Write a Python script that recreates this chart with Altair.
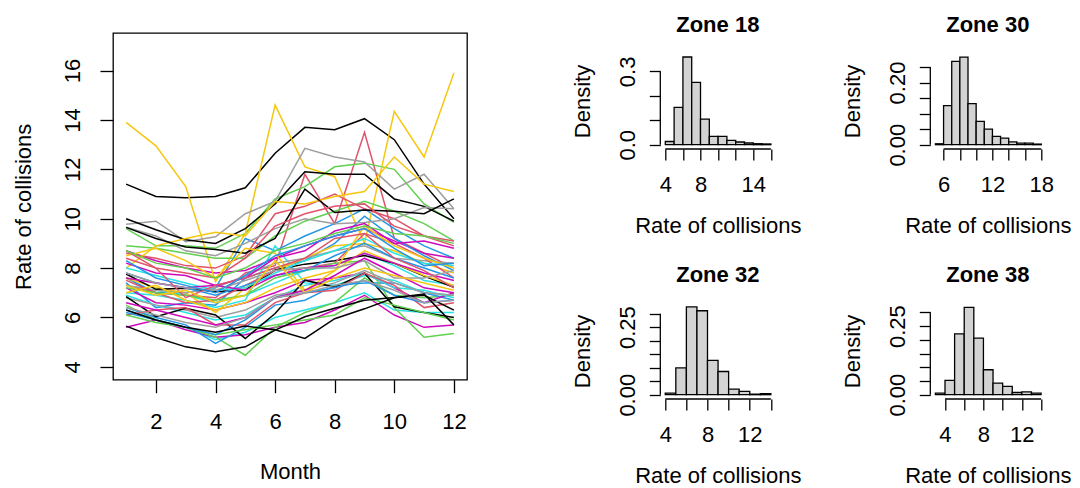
import altair as alt
import pandas as pd

FONT = "Liberation Sans"
MONTHS = list(range(1, 13))

# Monthly collision rates per zone, grouped by the line colour they are drawn in
BLACK_ZONES = [
    [11.4, 10.9, 10.85, 10.9, 11.25, 12.65, 13.7, 13.6, 14.05, 13.2, 11.4, 10.0],
    [10.0, 9.55, 9.15, 9.0, 9.6, 10.6, 11.9, 11.8, 11.8, 10.8, 10.5, 9.9],
    [9.65, 9.2, 8.85, 8.75, 8.6, 9.2, 11.2, 10.25, 10.35, 10.3, 10.2, 10.8],
    [7.76, 7.14, 7.18, 7.04, 7.11, 7.92, 8.16, 8.3, 8.51, 8.19, 7.68, 7.22],
    [6.84, 6.03, 6.37, 6.1, 5.15, 6.16, 7.51, 7.22, 7.79, 6.43, 6.2, 6.0],
    [5.65, 5.19, 4.81, 4.61, 4.81, 5.49, 6.03, 6.37, 6.7, 6.81, 6.9, 6.3],
    [6.3, 5.9, 5.6, 5.4, 5.65, 5.5, 5.15, 5.95, 6.35, 6.8, 6.95, 5.7],
]
RED_ZONES = [
    [7.3, 7.0, 6.9, 6.8, 7.8, 8.1, 11.8, 9.8, 13.5, 9.2, 8.6, 8.0],
    [8.6, 8.4, 8.1, 8.0, 8.5, 10.2, 10.5, 11.0, 10.4, 10.0, 9.3, 8.9],
    [8.4, 8.0, 7.8, 7.6, 8.4, 9.7, 10.2, 10.5, 10.6, 9.7, 9.3, 9.1],
    [7.5, 7.0, 6.6, 6.7, 7.3, 7.9, 8.0, 8.2, 9.4, 9.0, 8.4, 7.6],
    [6.1, 6.3, 6.4, 5.7, 5.7, 6.6, 7.0, 7.1, 7.8, 7.3, 6.4, 6.6],
    [8.7, 8.0, 6.8, 7.3, 7.6, 8.0, 8.4, 9.2, 9.4, 8.4, 7.9, 7.2],
]
GREEN_ZONES = [
    [9.6, 8.9, 8.9, 8.8, 9.4, 10.8, 11.3, 12.1, 12.25, 12.0, 10.6, 9.85],
    [8.9, 8.8, 8.6, 8.4, 8.4, 9.3, 9.9, 10.3, 10.7, 10.3, 9.8, 9.1],
    [6.5, 5.9, 5.6, 5.2, 4.47, 5.6, 6.2, 6.6, 7.6, 6.9, 6.8, 6.9],
    [7.2, 7.0, 6.9, 6.7, 6.9, 7.6, 7.9, 8.2, 8.3, 6.4, 5.2, 5.35],
    [6.1, 5.8, 5.6, 5.3, 5.5, 5.7, 5.9, 6.1, 6.8, 6.5, 6.2, 5.9],
    [8.7, 8.2, 8.0, 7.6, 8.0, 8.7, 9.0, 9.4, 9.7, 9.4, 9.3, 9.0],
]
BLUE_ZONES = [
    [7.6, 7.0, 7.0, 7.2, 9.2, 8.7, 9.3, 9.8, 10.4, 9.6, 8.9, 8.4],
    [7.4, 6.4, 6.6, 6.5, 7.6, 8.0, 8.3, 9.0, 10.1, 9.2, 8.5, 7.9],
    [6.4, 6.0, 5.7, 4.95, 5.6, 6.5, 6.7, 7.3, 7.4, 7.4, 7.0, 6.7],
    [7.8, 7.4, 7.2, 6.9, 7.3, 7.7, 7.9, 8.5, 9.0, 8.4, 8.0, 7.6],
    [6.2, 5.9, 5.6, 5.3, 5.9, 6.8, 7.0, 7.2, 7.5, 6.9, 6.6, 6.7],
    [8.3, 7.6, 7.3, 7.0, 7.7, 8.5, 8.9, 9.3, 9.6, 8.8, 8.1, 8.2],
]
CYAN_ZONES = [
    [6.3, 5.9, 5.6, 5.1, 5.4, 6.0, 6.3, 6.6, 7.0, 6.3, 6.2, 6.2],
    [7.0, 6.9, 6.7, 6.4, 6.7, 8.9, 7.4, 7.3, 7.7, 7.5, 7.0, 6.9],
    [7.3, 7.1, 6.9, 6.6, 6.9, 7.4, 7.9, 8.1, 8.6, 8.1, 7.5, 7.3],
    [6.9, 6.5, 6.2, 5.9, 6.1, 6.8, 7.3, 7.5, 7.8, 7.2, 7.1, 6.8],
    [8.0, 7.7, 7.4, 7.1, 7.2, 7.8, 8.3, 8.7, 9.2, 8.6, 8.2, 8.1],
]
MAGENTA_ZONES = [
    [8.7, 8.3, 8.0, 7.8, 7.9, 8.4, 8.9, 9.3, 9.6, 9.1, 8.6, 8.4],
    [5.6, 5.9, 5.5, 5.2, 5.3, 5.6, 5.8, 6.3, 6.9, 6.1, 5.6, 5.7],
    [7.2, 6.6, 6.5, 6.3, 6.6, 7.0, 7.5, 7.6, 7.8, 7.2, 6.6, 7.0],
    [8.2, 7.8, 7.7, 7.3, 7.6, 8.4, 8.7, 9.5, 9.8, 9.0, 9.1, 8.8],
    [7.6, 7.4, 7.2, 7.3, 7.1, 7.7, 8.0, 8.1, 8.6, 8.2, 7.8, 7.5],
    [6.6, 6.3, 6.0, 5.7, 6.0, 6.8, 7.1, 7.7, 8.4, 7.8, 7.2, 7.0],
]
YELLOW_ZONES = [
    [13.9, 12.95, 11.3, 7.45, 9.4, 14.6, 12.1, 11.7, 9.0, 14.35, 12.5, 15.9],
    [8.0, 8.9, 9.2, 9.45, 9.3, 10.7, 10.6, 10.9, 11.1, 12.5, 11.4, 11.1],
    [7.6, 7.2, 7.0, 6.2, 7.2, 7.9, 8.4, 8.9, 9.0, 8.7, 8.2, 7.8],
    [8.5, 8.8, 8.3, 7.6, 8.8, 8.6, 7.1, 7.9, 8.7, 8.2, 7.7, 7.3],
    [7.0, 7.3, 6.7, 6.3, 6.6, 7.2, 7.6, 7.9, 9.7, 8.9, 8.4, 8.0],
    [7.3, 6.9, 7.1, 6.6, 6.9, 8.3, 7.0, 7.6, 8.0, 7.7, 7.4, 7.1],
]
GREY_ZONES = [
    [9.78, 9.9, 9.07, 9.27, 10.2, 10.7, 12.85, 12.5, 12.3, 11.2, 11.8, 10.4],
    [9.65, 9.3, 8.7, 8.5, 9.0, 9.6, 10.0, 9.8, 9.85, 10.0, 10.45, 10.4],
    [7.3, 7.1, 7.0, 7.2, 7.7, 8.2, 8.4, 8.7, 8.9, 8.4, 8.3, 8.2],
    [6.8, 6.5, 6.3, 6.0, 6.3, 6.9, 7.1, 7.4, 7.9, 7.4, 7.0, 6.9],
    [7.8, 7.4, 7.2, 7.1, 7.5, 7.9, 8.0, 8.0, 8.3, 7.6, 7.6, 7.9],
    [6.4, 6.1, 5.8, 5.6, 6.0, 6.8, 7.0, 7.3, 7.5, 7.1, 6.6, 6.7],
]

# R's default palette, cycled over the zones in order
PALETTE = [
    ("#000000", BLACK_ZONES),
    ("#DF536B", RED_ZONES),
    ("#61D04F", GREEN_ZONES),
    ("#2297E6", BLUE_ZONES),
    ("#28E2E5", CYAN_ZONES),
    ("#CD0BBC", MAGENTA_ZONES),
    ("#F5C710", YELLOW_ZONES),
    ("#9E9E9E", GREY_ZONES),
]

# Histograms of the collision rate for four zones (bin breaks and densities)
Z18_BREAKS = list(range(4, 17))
Z18_DENSITY = [0.013, 0.153, 0.359, 0.255, 0.105, 0.034, 0.034, 0.018, 0.011, 0.007, 0.004, 0.003]
Z30_BREAKS = list(range(5, 19))
Z30_DENSITY = [0.003, 0.1255, 0.268, 0.282, 0.132, 0.075, 0.050, 0.027, 0.021, 0.009, 0.005, 0.005, 0.002]
Z32_BREAKS = list(range(4, 15))
Z32_DENSITY = [0.006, 0.099, 0.325, 0.311, 0.127, 0.086, 0.021, 0.012, 0.002, 0.004]
Z38_BREAKS = list(range(3, 15))
Z38_DENSITY = [0.006, 0.052, 0.222, 0.318, 0.206, 0.091, 0.042, 0.030, 0.008, 0.010, 0.006]

# ---- line panel -------------------------------------------------------
records = []
zone_id = 0
for i in range(max(len(z) for _, z in PALETTE)):
    for colour, zones in PALETTE:
        if i < len(zones):
            zone_id += 1
            for m, v in zip(MONTHS, zones[i]):
                records.append({"zone": f"z{zone_id:02d}", "month": m, "rate": v, "colour": colour})
line_df = pd.DataFrame(records)

LINE_W, LINE_H = 354, 346.7

line_chart = alt.Chart(line_df).mark_line(strokeWidth=1.5).encode(
    x=alt.X(
        "month:Q",
        scale=alt.Scale(domain=[0.56, 12.44], nice=False, zero=False),
        axis=alt.Axis(
            values=[2, 4, 6, 8, 10, 12], title="Month", tickSize=13,
            labelPadding=35.7, labelBaseline="alphabetic", labelFlush=False,
            labelOverlap=False, titleX=LINE_W / 2, titleY=98.7,
            titleAlign="center", titleBaseline="alphabetic",
        ),
    ),
    y=alt.Y(
        "rate:Q",
        scale=alt.Scale(domain=[3.48, 17.52], nice=False, zero=False),
        axis=alt.Axis(
            values=[4, 6, 8, 10, 12, 14, 16], title="Rate of collisions", tickSize=13,
            labelAngle=270, labelAlign="center", labelBaseline="alphabetic",
            labelPadding=20.8, labelFlush=False, labelOverlap=False,
            titleAngle=270, titleX=-82.2, titleY=LINE_H / 2,
            titleAlign="center", titleBaseline="alphabetic",
        ),
    ),
    detail="zone:N",
    color=alt.Color("colour:N", scale=None),
).properties(width=LINE_W, height=LINE_H)

# ---- histogram panels ---------------------------------------------------
H_W, H_H = 115, 116


def histogram(title, breaks, density, xdom, ydom, xticks, xlabels, yticks, ylabels, yfmt):
    bins = pd.DataFrame({"lo": breaks[:-1], "hi": breaks[1:], "density": density})
    xscale = alt.Scale(domain=xdom, nice=False, zero=False)
    yscale = alt.Scale(domain=ydom, nice=False, zero=False)
    xlab = "[" + ",".join(str(v) for v in xlabels) + "]"
    ylab = "[" + ",".join(str(v) for v in ylabels) + "]"
    xaxis = alt.Axis(
        values=xticks, title="Rate of collisions", tickSize=11,
        labelExpr=f"indexof({xlab}, datum.value) >= 0 ? datum.label : ''",
        labelPadding=31.3, labelBaseline="alphabetic", labelFlush=False,
        labelOverlap=False, titleX=H_W / 2, titleY=83.6,
        titleAlign="center", titleBaseline="alphabetic",
    )
    yaxis = alt.Axis(
        values=yticks, title="Density", tickSize=11,
        labelExpr=f"indexof({ylab}, datum.value) >= 0 ? format(datum.value, '{yfmt}') : ''",
        labelAngle=270, labelAlign="center", labelBaseline="alphabetic",
        labelPadding=15.3, labelFlush=False, labelOverlap=False,
        titleAngle=270, titleX=-70.7, titleY=68,
        titleAlign="center", titleBaseline="alphabetic",
    )
    bars = alt.Chart(bins).mark_rect(fill="#D3D3D3", stroke="black", strokeWidth=1.3).encode(
        x=alt.X("lo:Q", scale=xscale, axis=xaxis),
        x2="hi:Q",
        y=alt.Y("density:Q", scale=yscale, axis=yaxis),
        y2=alt.datum(0),
    )
    x_line = alt.Chart(
        pd.DataFrame({"lo": [xticks[0]], "hi": [xticks[-1]], "level": [ydom[0]]})
    ).mark_rule(color="black", strokeWidth=1.3).encode(
        x=alt.X("lo:Q", scale=xscale, axis=xaxis),
        x2="hi:Q",
        y=alt.Y("level:Q", scale=yscale, axis=yaxis),
    )
    y_line = alt.Chart(
        pd.DataFrame({"lo": [yticks[0]], "hi": [yticks[-1]], "level": [xdom[0]]})
    ).mark_rule(color="black", strokeWidth=1.3).encode(
        x=alt.X("level:Q", scale=xscale, axis=xaxis),
        y=alt.Y("lo:Q", scale=yscale, axis=yaxis),
        y2="hi:Q",
    )
    return alt.layer(bars, x_line, y_line).properties(
        width=H_W,
        height=H_H,
        title=alt.TitleParams(
            text=title, baseline="alphabetic", offset=-20.5, frame="group",
            anchor="middle", fontSize=22, fontWeight="bold", font=FONT, color="black",
        ),
        view=alt.ViewBackground(stroke="transparent"),
    )


h18 = histogram("Zone 18", Z18_BREAKS, Z18_DENSITY, [3.43, 16.50], [-0.0176, 0.4572],
                [4, 6, 8, 10, 12, 14, 16], [4, 8, 14], [0, 0.1, 0.2, 0.3], [0, 0.3], ".1f")
h30 = histogram("Zone 30", Z30_BREAKS, Z30_DENSITY, [4.37, 18.49], [-0.0138, 0.3594],
                [6, 8, 10, 12, 14, 16, 18], [6, 12, 18], [0, 0.05, 0.1, 0.15, 0.2, 0.25], [0, 0.2], ".2f")
h32 = histogram("Zone 32", Z32_BREAKS, Z32_DENSITY, [3.53, 14.42], [-0.0159, 0.4137],
                [4, 6, 8, 10, 12, 14], [4, 8, 12], [0, 0.05, 0.1, 0.15, 0.2, 0.25, 0.3], [0, 0.25], ".2f")
h38 = histogram("Zone 38", Z38_BREAKS, Z38_DENSITY, [2.47, 14.44], [-0.0157, 0.4071],
                [4, 6, 8, 10, 12, 14], [4, 8, 12], [0, 0.05, 0.1, 0.15, 0.2, 0.25, 0.3], [0, 0.25], ".2f")

# Rows are nested groups without an intrinsic height under flush bounds, so the
# vertical spacing is measured from the top of one row to the top of the next.
top_row = alt.hconcat(h18, h30, spacing=155, bounds="flush")
bottom_row = alt.hconcat(h32, h38, spacing=155, bounds="flush")
hist_grid = alt.vconcat(top_row, bottom_row, spacing=250, bounds="flush")

chart = alt.hconcat(line_chart, hist_grid, spacing=193.3, bounds="flush").properties(
    padding={"left": 12, "top": 12, "right": 0, "bottom": 0},
    background="white",
).configure_view(
    stroke="black", strokeWidth=1.3,
).configure_axis(
    labelFont=FONT, titleFont=FONT, labelFontSize=22, titleFontSize=22,
    labelColor="black", titleColor="black", titleFontWeight="normal",
    tickColor="black", tickWidth=1.3, domain=False, grid=False,
)

chart.save("out.html", embed_options={"renderer": "svg", "actions": False})
